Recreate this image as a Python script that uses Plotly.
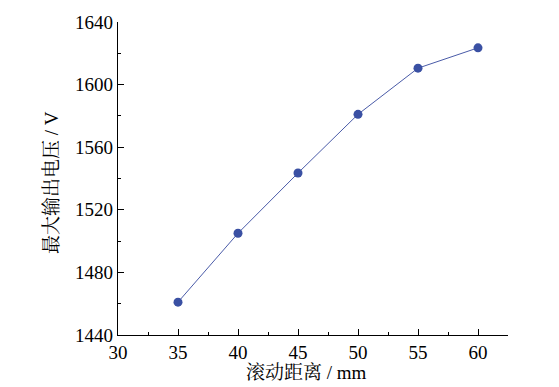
import plotly.graph_objects as go

distance_mm = [35, 40, 45, 50, 55, 60]
max_voltage_v = [1461, 1505, 1543.5, 1581, 1610.5, 1623.5]

x_ticks = [30, 35, 40, 45, 50, 55, 60]
y_ticks = [1440, 1480, 1520, 1560, 1600, 1640]

x_title = "滚动距离 / mm"
y_title = "最大输出电压 / V"

FONT = "Times New Roman, Liberation Serif, DejaVu Serif, serif"
CJK_FONT = "Times New Roman, Liberation Serif, Noto Serif CJK SC, Noto Sans CJK SC, serif"
color = "#3A50A3"

fig = go.Figure()
fig.add_trace(go.Scatter(
    x=distance_mm, y=max_voltage_v, mode="lines+markers",
    line=dict(color="#4A5BA8", width=1),
    marker=dict(color=color, size=9),
    showlegend=False,
))

axis_common = dict(
    showline=True, linecolor="black", linewidth=1.2,
    showgrid=False, zeroline=False, automargin=False,
    ticks="inside", ticklen=6, tickwidth=1.2, tickcolor="black",
    tickfont=dict(family=FONT, size=19, color="black"),
)

fig.update_xaxes(
    range=[30, 62.5], tickvals=x_ticks,
    minor=dict(ticks="inside", ticklen=3, tickwidth=1.2, tickcolor="black", dtick=2.5, tick0=30),
    **axis_common,
)
fig.update_yaxes(
    range=[1440, 1640], tickvals=y_ticks,
    minor=dict(ticks="inside", ticklen=3, tickwidth=1.2, tickcolor="black", dtick=20, tick0=1440),
    **axis_common,
)

fig.add_annotation(text=x_title, xref="paper", yref="paper", x=0.483, y=-0.12,
                   xanchor="center", yanchor="middle", showarrow=False,
                   font=dict(family=CJK_FONT, size=19, color="black"))
fig.add_annotation(text=y_title, xref="paper", yref="paper", x=-0.1705, y=0.487,
                   xanchor="center", yanchor="middle", showarrow=False, textangle=-90,
                   font=dict(family=CJK_FONT, size=19, color="black"))

fig.update_layout(
    width=551, height=379,
    margin=dict(l=110, r=51, t=14, b=52, pad=0),
    plot_bgcolor="white", paper_bgcolor="white",
)

fig.write_html("out.html")
